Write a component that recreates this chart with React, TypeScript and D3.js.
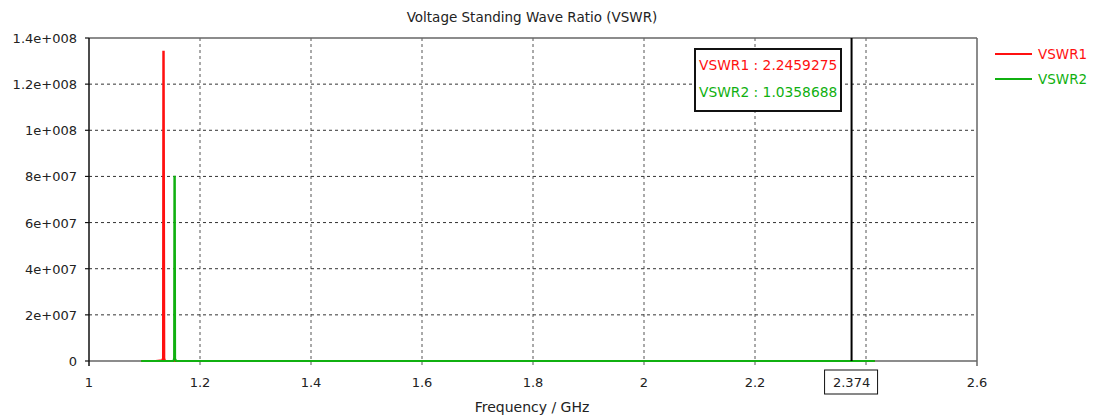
import React from "react";
import * as d3 from "d3";

const title = "Voltage Standing Wave Ratio (VSWR)";
const xLabel = "Frequency / GHz";
const xTicks = [1, 1.2, 1.4, 1.6, 1.8, 2, 2.2, 2.4, 2.6];
const yTicks = [0, 2e7, 4e7, 6e7, 8e7, 1e8, 1.2e8, 1.4e8];
const yTickLabels = ["0", "2e+007", "4e+007", "6e+007", "8e+007", "1e+008", "1.2e+008", "1.4e+008"];

// VSWR1 sweep (GHz, ratio)
const vswr1Freq = [1.094, 1.12, 1.132, 1.1335, 1.134, 1.1345, 1.1355, 1.137, 1.15, 1.2, 1.6, 2.0, 2.374, 2.416];
const vswr1Vals = [4.1, 3.5, 2.5e5, 1.2e6, 1.34e8, 1.34e8, 1.2e6, 3.0, 2.8, 2.6, 2.4, 2.3, 2.2459275, 2.2];

// VSWR2 sweep (GHz, ratio)
const vswr2Freq = [1.094, 1.13, 1.152, 1.153, 1.1535, 1.154, 1.1545, 1.155, 1.157, 1.2, 1.6, 2.0, 2.374, 2.416];
const vswr2Vals = [3.2, 2.8, 2.0, 6.0e5, 1.5e6, 7.98e7, 7.98e7, 1.0e6, 1.5, 1.3, 1.1, 1.05, 1.0358688, 1.03];

const markerFreq = 2.374;
const markerLabel = "2.374";
const markerReadout = [
  { name: "VSWR1", value: "2.2459275", color: "#ff1010" },
  { name: "VSWR2", value: "1.0358688", color: "#10b010" },
];

const W = 1094;
const H = 419;
const M = { left: 89, right: 977, top: 38, bottom: 361 };
const FONT = "'DejaVu Sans', Verdana, sans-serif";

export default function App() {
  const x = d3.scaleLinear().domain([1, 2.6]).range([M.left, M.right]);
  const y = d3.scaleLinear().domain([0, 1.4e8]).range([M.bottom, M.top]);

  const line = d3
    .line<[number, number]>()
    .x((d) => x(d[0]))
    .y((d) => y(d[1]));

  const s1 = vswr1Freq.map((f, i) => [f, vswr1Vals[i]] as [number, number]);
  const s2 = vswr2Freq.map((f, i) => [f, vswr2Vals[i]] as [number, number]);
  const mx = x(markerFreq);

  return (
    <svg
      width={W}
      height={H}
      style={{ position: "absolute", left: 0, top: 0, background: "#fff" }}
      fontFamily={FONT}
    >
      <rect width={W} height={H} fill="#fff" />
      <text x={532} y={22} textAnchor="middle" fontSize={13.5} fill="#222">
        {title}
      </text>

      {/* grid */}
      {xTicks.slice(1, -1).map((t) => (
        <line
          key={"gx" + t}
          x1={x(t)}
          x2={x(t)}
          y1={M.top}
          y2={M.bottom + 6}
          stroke="#555"
          strokeDasharray="3,3"
          strokeWidth={1}
        />
      ))}
      {yTicks.slice(1, -1).map((t) => (
        <line
          key={"gy" + t}
          x1={M.left}
          x2={M.right}
          y1={y(t)}
          y2={y(t)}
          stroke="#333"
          strokeDasharray="3,3"
          strokeWidth={1}
        />
      ))}

      {/* frame */}
      <line x1={M.left} x2={M.right} y1={M.top} y2={M.top} stroke="#666" strokeWidth={1.5} />
      <line x1={M.right} x2={M.right} y1={M.top} y2={M.bottom + 5} stroke="#666" strokeWidth={1.5} />
      <line x1={M.left} x2={M.right} y1={M.bottom} y2={M.bottom} stroke="#666" strokeWidth={1.5} />
      <line x1={M.left} x2={M.left} y1={M.top} y2={M.bottom + 5} stroke="#111" strokeWidth={1.5} />

      {/* y ticks */}
      {yTicks.map((t, i) => (
        <g key={"yt" + t}>
          <line x1={M.left - 4} x2={M.left} y1={y(t)} y2={y(t)} stroke="#111" strokeWidth={1.2} />
          <text x={77} y={y(t) + 5} textAnchor="end" fontSize={13} fill="#222">
            {yTickLabels[i]}
          </text>
        </g>
      ))}

      {/* x ticks */}
      {xTicks.map((t) =>
        Math.abs(x(t) - x(markerFreq)) < 30 ? null : (
          <text key={"xt" + t} x={x(t)} y={387} textAnchor="middle" fontSize={13} fill="#222">
            {d3.format("~g")(t)}
          </text>
        )
      )}
      <text x={532} y={412} textAnchor="middle" fontSize={14} fill="#222">
        {xLabel}
      </text>

      {/* curves */}
      <path d={line(s1) ?? ""} fill="none" stroke="#ff1010" strokeWidth={2.2} />
      <path d={line(s2) ?? ""} fill="none" stroke="#10b010" strokeWidth={2.2} />

      {/* marker */}
      <line x1={mx} x2={mx} y1={M.top} y2={M.bottom} stroke="#000" strokeWidth={2} />
      <rect x={mx - 27} y={370} width={53} height={24} fill="#fff" stroke="#111" strokeWidth={1} />
      <text x={mx} y={387} textAnchor="middle" fontSize={13} fill="#222">
        {markerLabel}
      </text>

      <rect x={695} y={49} width={146} height={62} fill="#fff" stroke="#111" strokeWidth={2} />
      {markerReadout.map((r, i) => (
        <text key={r.name} x={699} y={70 + i * 27} fontSize={13.8} fill={r.color}>
          {`${r.name} : ${r.value}`}
        </text>
      ))}

      {/* legend */}
      {markerReadout.map((r, i) => (
        <g key={"lg" + r.name}>
          <line x1={995} x2={1032} y1={54 + i * 25} y2={54 + i * 25} stroke={r.color} strokeWidth={2} />
          <text x={1038} y={59 + i * 25} fontSize={13.5} fill={r.color}>
            {r.name}
          </text>
        </g>
      ))}
    </svg>
  );
}
